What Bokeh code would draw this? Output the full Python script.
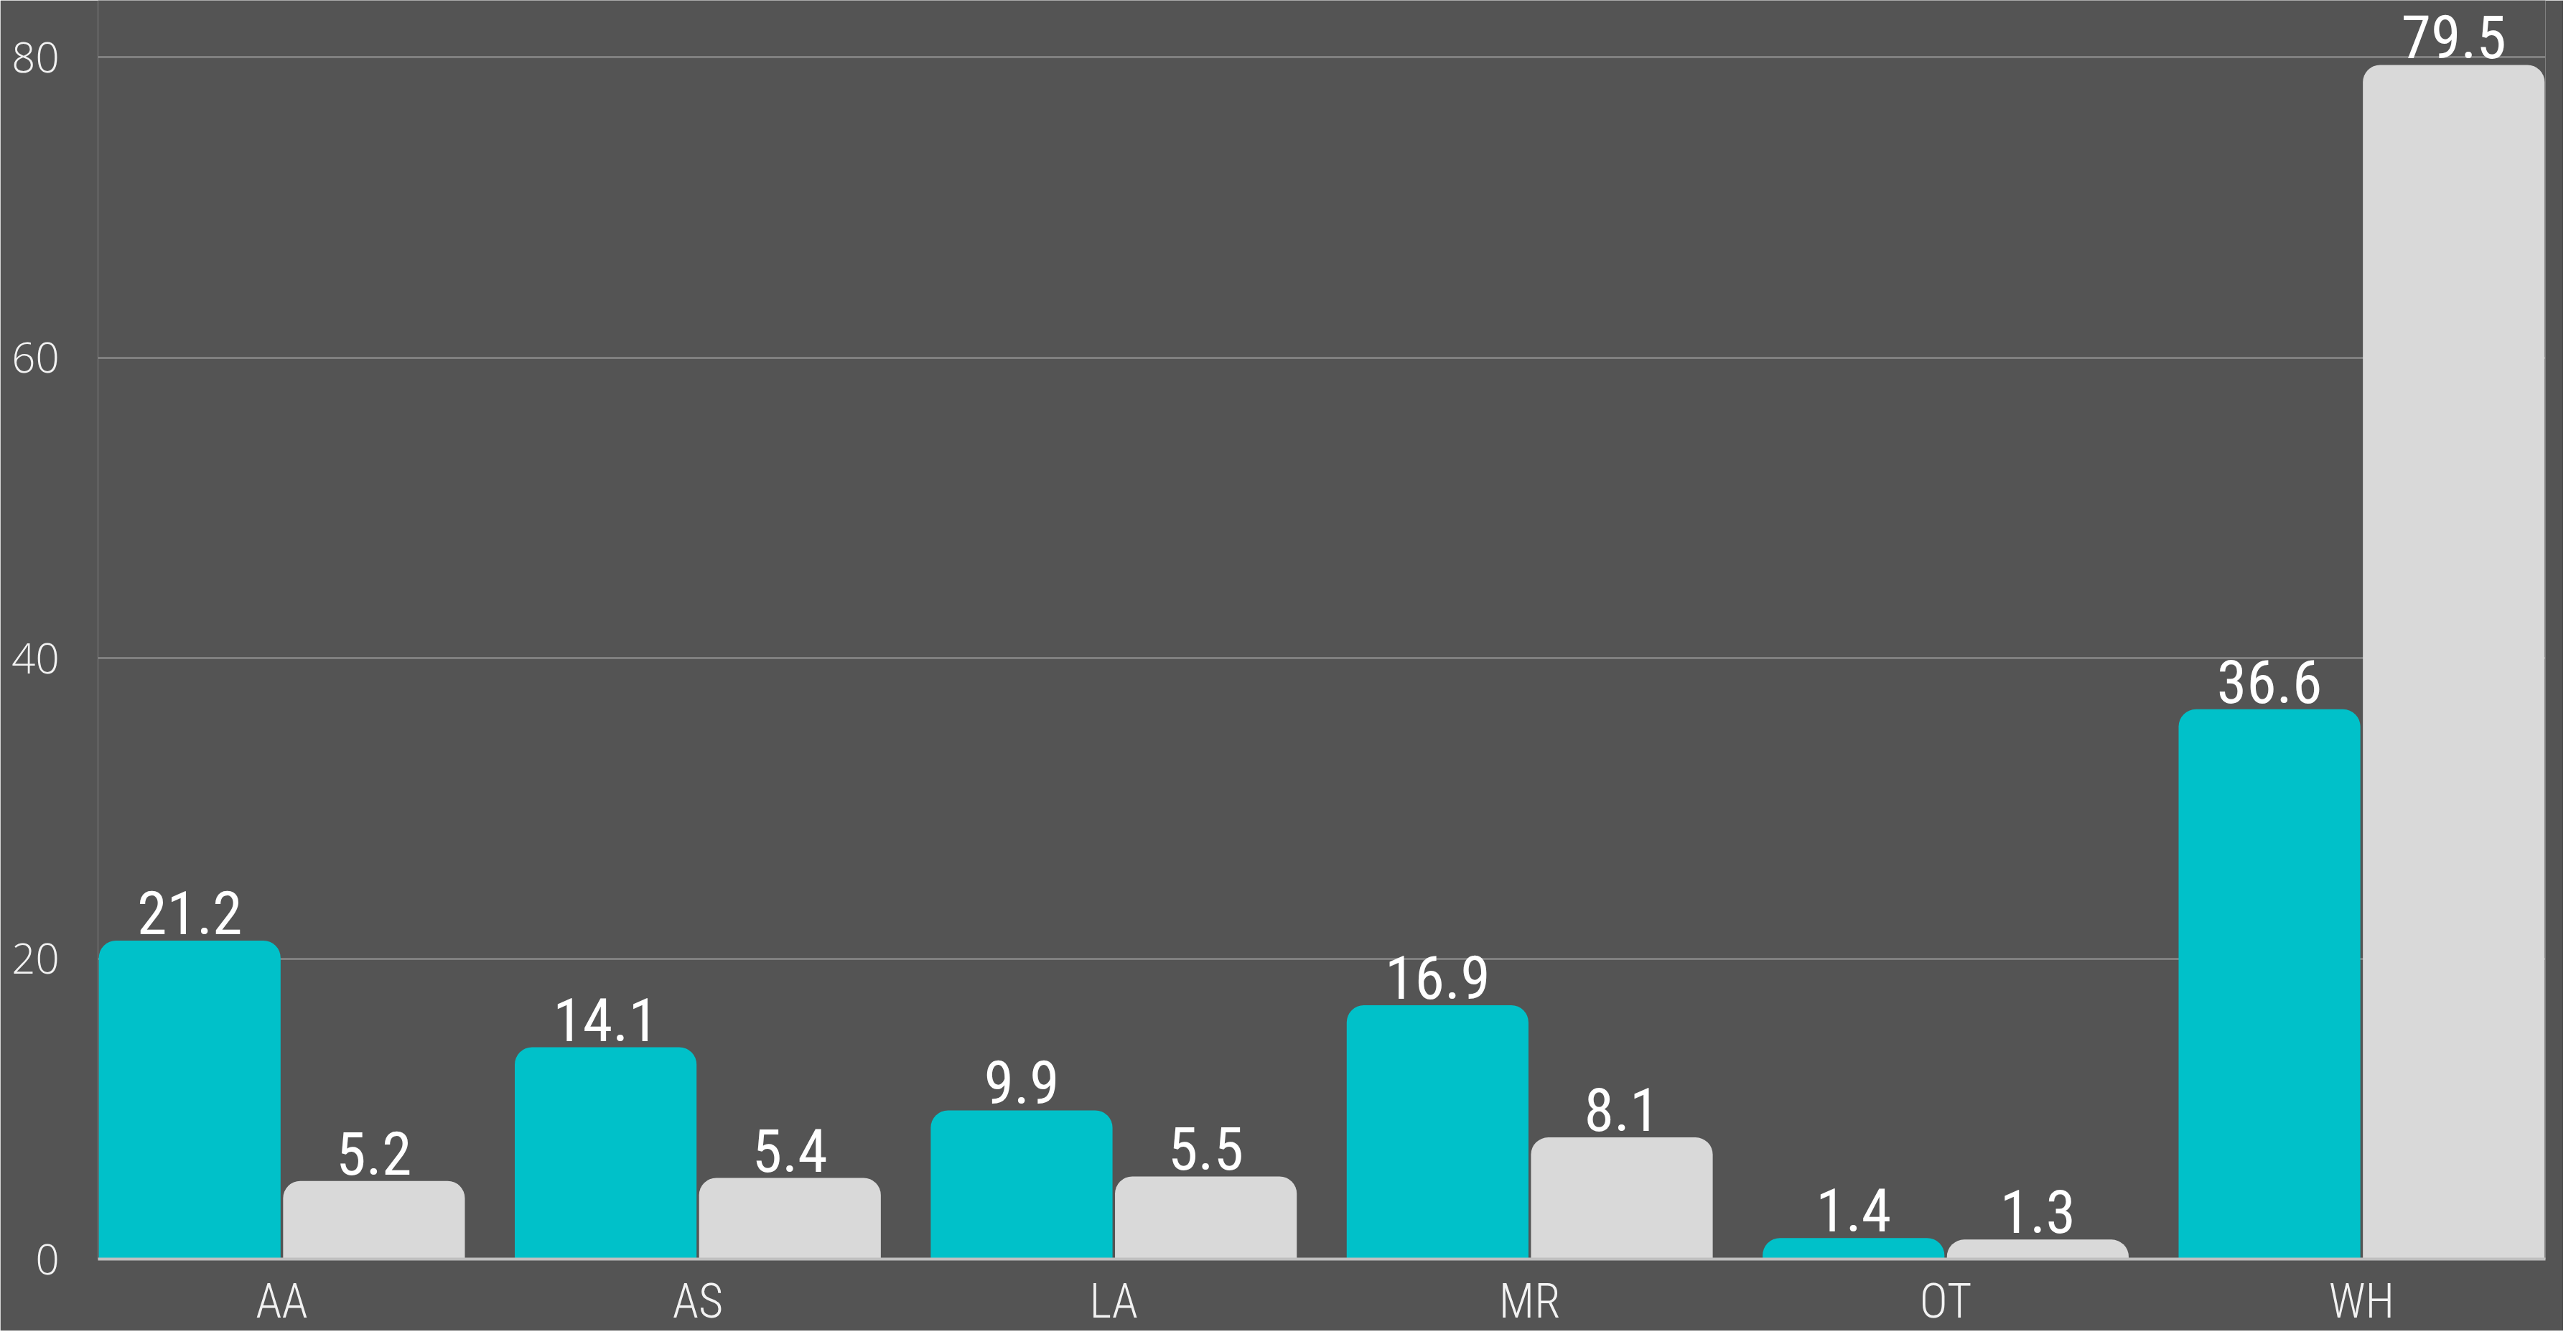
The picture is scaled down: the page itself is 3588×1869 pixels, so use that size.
from bokeh.plotting import figure
from bokeh.models import ColumnDataSource, Range1d, FixedTicker, LabelSet
from bokeh.transform import dodge
from bokeh.core.properties import value
from bokeh.embed import file_html
from bokeh.resources import INLINE

categories = ["AA", "AS", "LA", "MR", "OT", "WH"]
series_a = [21.2, 14.1, 9.9, 16.9, 1.4, 36.6]
series_b = [5.2, 5.4, 5.5, 8.1, 1.3, 79.5]
y_ticks = [0, 20, 40, 60, 80]

BG = "#545454"
TEAL = "#00C1C9"
GREY = "#D9D9D9"
VAL_FONT = "Roboto Condensed"
Y_FONT = "Open Sans Light"
X_FONT = "'Roboto Condensed Light', 'Open Sans Light'"

xs = list(range(len(categories)))
src = ColumnDataSource(dict(
    x=xs, a=series_a, b=series_b,
    a_lab=[f"{v:.1f}" for v in series_a],
    b_lab=[f"{v:.1f}" for v in series_b],
))

p = figure(width=3570, height=1853, output_backend="svg", toolbar_location=None,
           x_range=Range1d(-0.442, 5.442), y_range=Range1d(0, 83.8),
           background_fill_color=BG, border_fill_color=BG, outline_line_color=None,
           min_border_left=136, min_border_right=25, min_border_top=0, min_border_bottom=99)

off = 0.2215
bw = 0.437
p.vbar(x=dodge("x", -off, range=p.x_range), top="a", bottom=0, width=bw, source=src,
       fill_color=TEAL, line_color=None, border_radius=(24, 24, 0, 0))
p.vbar(x=dodge("x", off, range=p.x_range), top="b", bottom=0, width=bw, source=src,
       fill_color=GREY, line_color=None, border_radius=(24, 24, 0, 0))

for col, lab, d in (("a", "a_lab", -off), ("b", "b_lab", off)):
    p.add_layout(LabelSet(x=dodge("x", d, range=p.x_range), y=col, text=lab, source=src,
                          y_offset=9, text_align="center", text_baseline="alphabetic",
                          text_color="#FFFFFF", text_font=value(VAL_FONT),
                          text_font_size="84px"))

p.xgrid.grid_line_color = None
p.ygrid.grid_line_color = "#808080"
p.ygrid.grid_line_width = 3
p.ygrid.ticker = FixedTicker(ticks=y_ticks)

p.yaxis.ticker = FixedTicker(ticks=y_ticks)
p.yaxis.axis_line_color = None
p.yaxis.major_tick_line_color = None
p.yaxis.minor_tick_line_color = None
p.yaxis.major_label_standoff = 48
p.yaxis.major_label_text_font = Y_FONT
p.yaxis.major_label_text_font_size = "58px"
p.yaxis.major_label_text_color = "#F2F2F2"

p.xaxis.ticker = FixedTicker(ticks=xs)
p.xaxis.major_label_overrides = {i: c for i, c in enumerate(categories)}
p.xaxis.axis_line_color = "#BFBFBF"
p.xaxis.axis_line_width = 4
p.xaxis.major_tick_line_color = None
p.xaxis.minor_tick_line_color = None
p.xaxis.major_label_standoff = 14
p.xaxis.major_label_text_font = X_FONT
p.xaxis.major_label_text_font_size = "66px"
p.xaxis.major_label_text_color = "#F2F2F2"

open("out.html", "w").write(file_html(p, INLINE))
